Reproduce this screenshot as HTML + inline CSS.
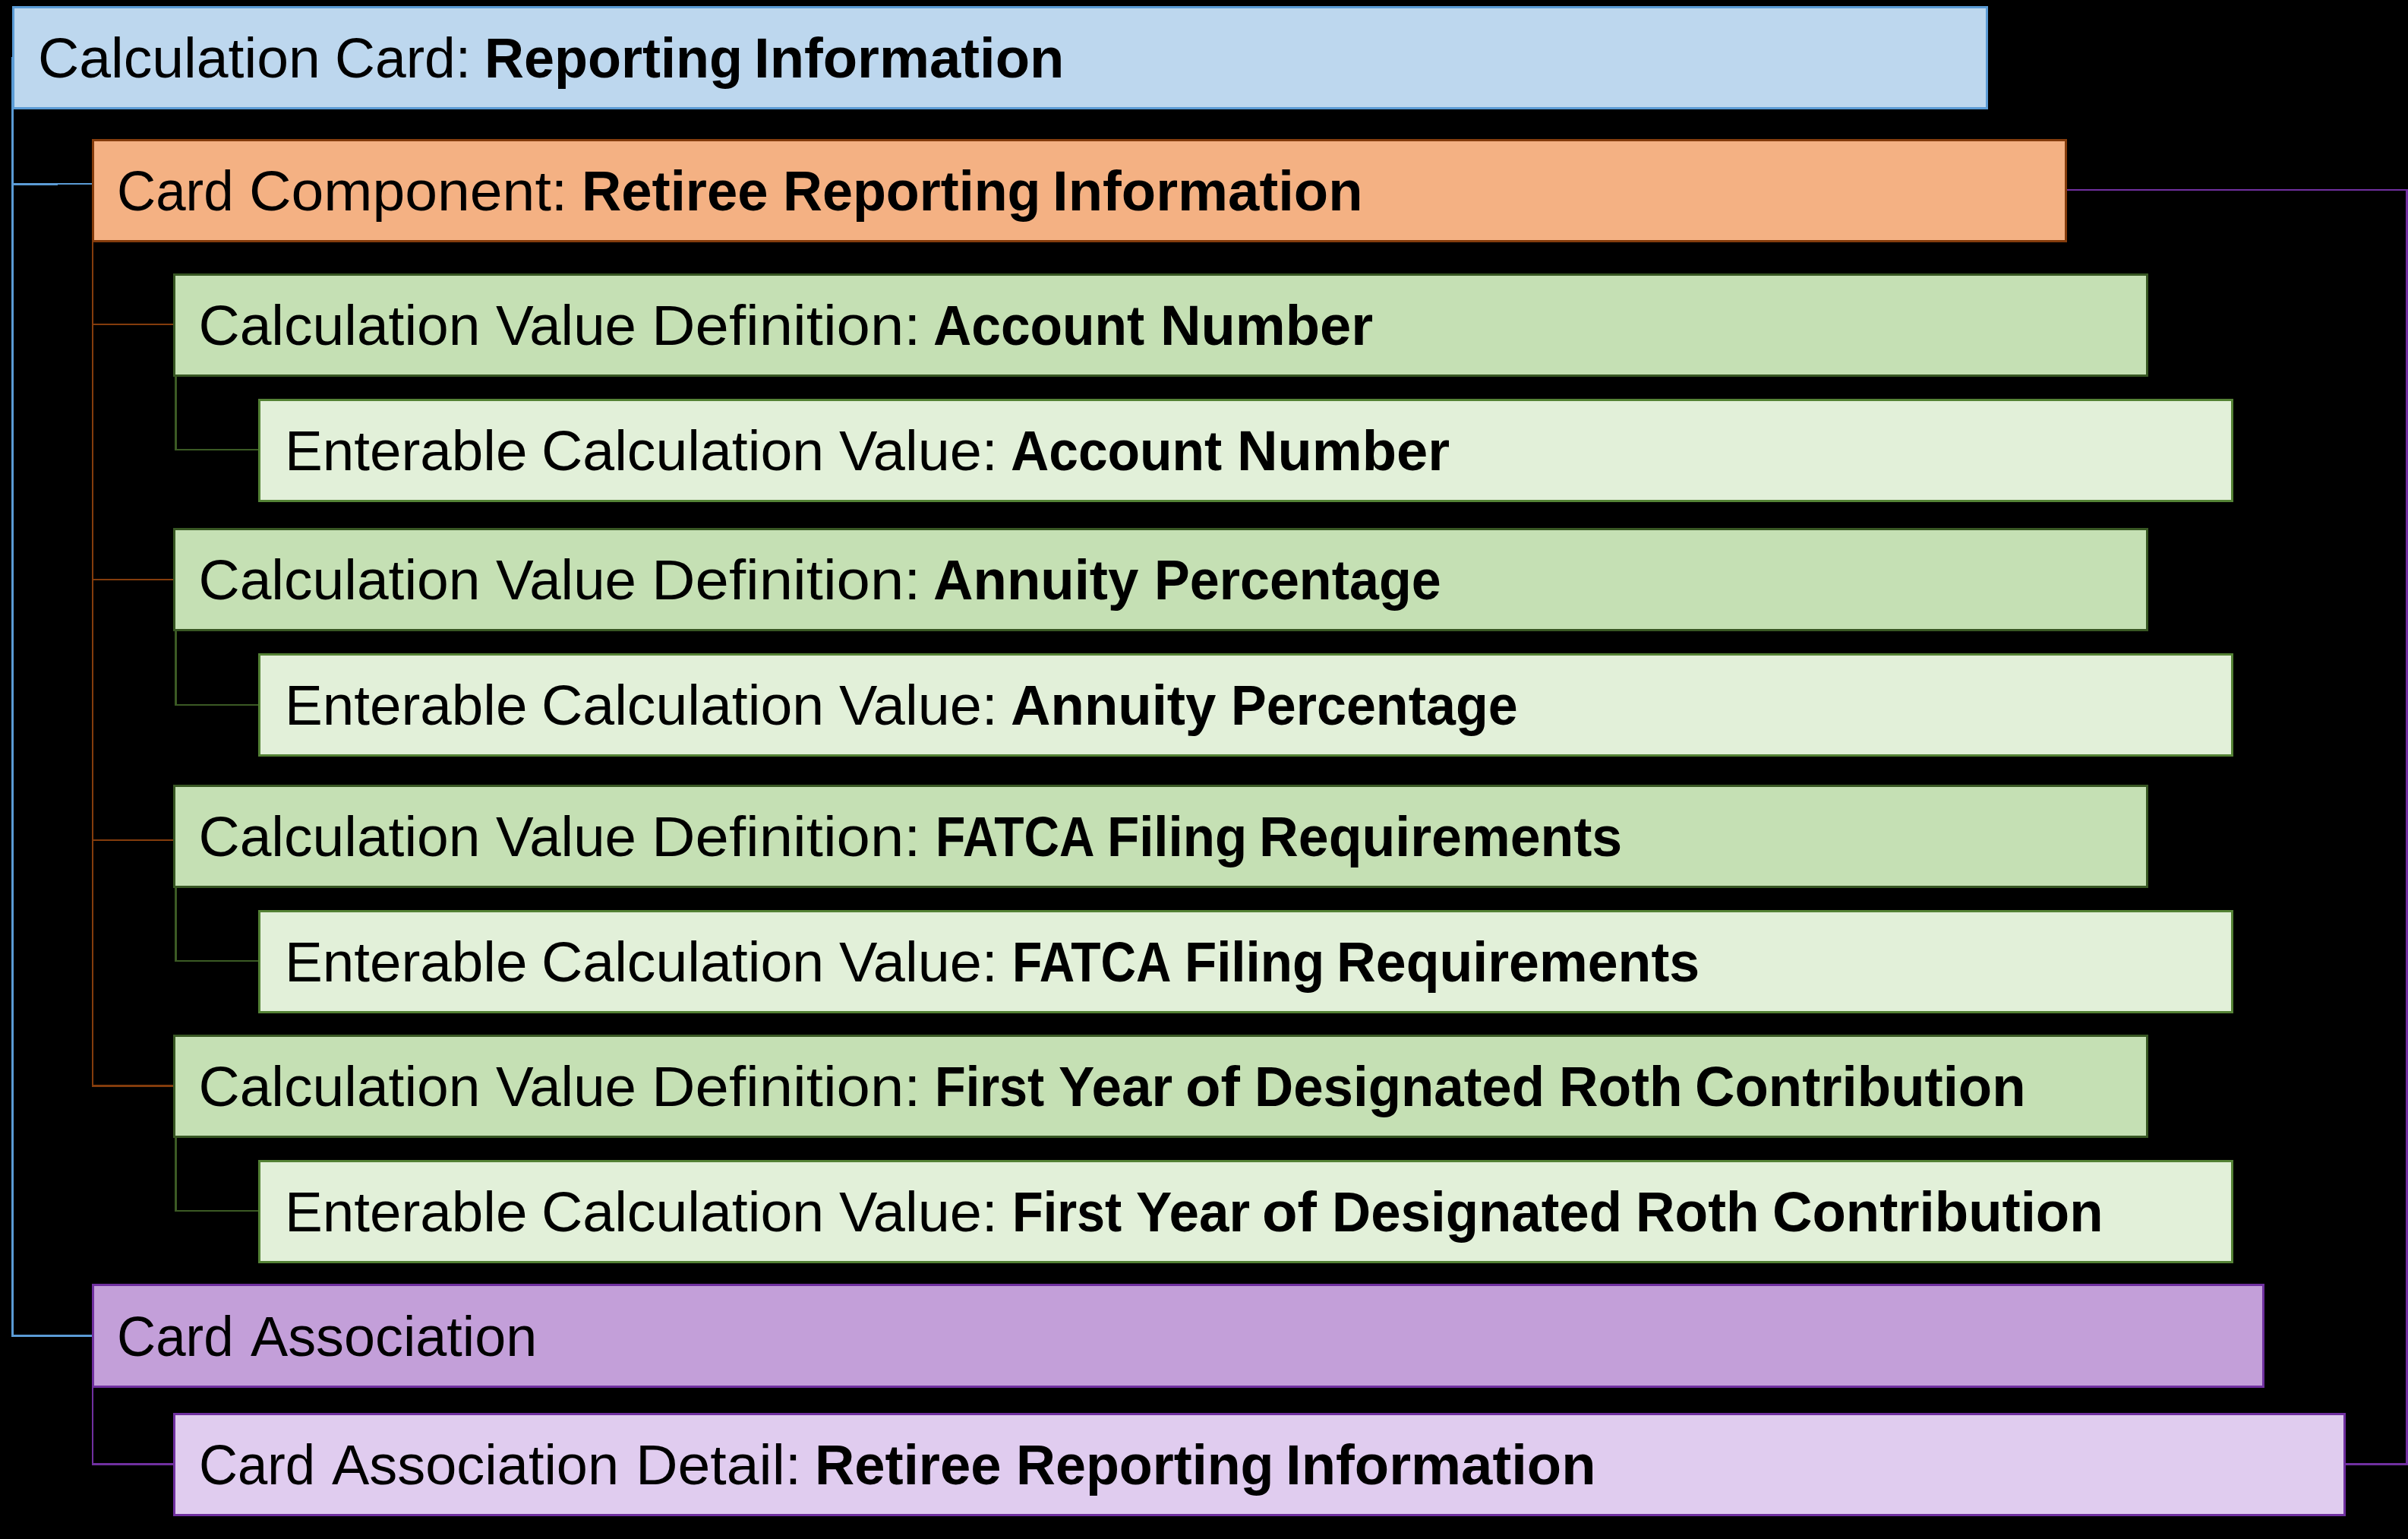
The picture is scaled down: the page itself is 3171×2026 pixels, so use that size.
<!DOCTYPE html>
<html><head><meta charset="utf-8"><title>Calculation Card: Reporting Information</title>
<style>
*{margin:0;padding:0}
html,body{width:3171px;height:2026px;overflow:hidden;background:#000}
body{position:relative}
.b{position:absolute;box-sizing:border-box;border-style:solid;border-width:3px}
.l{position:absolute}
.t{position:absolute;font-family:"Liberation Sans",sans-serif;font-size:75px;line-height:75px;white-space:pre;color:#000;transform-origin:0 0}
.k{font-weight:700}

</style></head><body>
<div class="b" style="left:16px;top:8px;width:2602px;height:136px;border-color:#5B9BD5;background:#BDD7EE"></div>
<div class="b" style="left:121px;top:183px;width:2601px;height:136px;border-color:#843C0C;background:#F4B183"></div>
<div class="b" style="left:228px;top:360px;width:2601px;height:136px;border-color:#385723;background:#C5E0B4"></div>
<div class="b" style="left:228px;top:695px;width:2601px;height:136px;border-color:#385723;background:#C5E0B4"></div>
<div class="b" style="left:228px;top:1033px;width:2601px;height:136px;border-color:#385723;background:#C5E0B4"></div>
<div class="b" style="left:228px;top:1362px;width:2601px;height:136px;border-color:#385723;background:#C5E0B4"></div>
<div class="b" style="left:340px;top:525px;width:2601px;height:136px;border-color:#548235;background:#E2F0D9"></div>
<div class="b" style="left:340px;top:860px;width:2601px;height:136px;border-color:#548235;background:#E2F0D9"></div>
<div class="b" style="left:340px;top:1198px;width:2601px;height:136px;border-color:#548235;background:#E2F0D9"></div>
<div class="b" style="left:340px;top:1527px;width:2601px;height:136px;border-color:#548235;background:#E2F0D9"></div>
<div class="b" style="left:121px;top:1690px;width:2861px;height:137px;border-color:#7030A0;background:#C39FD9"></div>
<div class="b" style="left:228px;top:1860px;width:2861px;height:136px;border-color:#7030A0;background:#E0CCEF"></div>
<div class="l" style="left:15px;top:75px;width:3px;height:1685px;background:#5B9BD5"></div>
<div class="l" style="left:15px;top:241px;width:61px;height:3px;background:#5B9BD5"></div>
<div class="l" style="left:76px;top:241px;width:45px;height:2px;background:#5B9BD5"></div>
<div class="l" style="left:15px;top:1757px;width:106px;height:3px;background:#5B9BD5"></div>
<div class="l" style="left:121px;top:319px;width:2px;height:1112px;background:#843C0C"></div>
<div class="l" style="left:121px;top:426px;width:107px;height:2px;background:#843C0C"></div>
<div class="l" style="left:121px;top:762px;width:107px;height:2px;background:#843C0C"></div>
<div class="l" style="left:121px;top:1105px;width:107px;height:2px;background:#843C0C"></div>
<div class="l" style="left:121px;top:1428px;width:107px;height:3px;background:#843C0C"></div>
<div class="l" style="left:230px;top:496px;width:3px;height:97px;background:#3B5A24"></div>
<div class="l" style="left:230px;top:591px;width:110px;height:2px;background:#3B5A24"></div>
<div class="l" style="left:230px;top:831px;width:3px;height:98px;background:#3B5A24"></div>
<div class="l" style="left:230px;top:927px;width:110px;height:2px;background:#3B5A24"></div>
<div class="l" style="left:230px;top:1169px;width:3px;height:97px;background:#3B5A24"></div>
<div class="l" style="left:230px;top:1264px;width:110px;height:2px;background:#3B5A24"></div>
<div class="l" style="left:230px;top:1498px;width:3px;height:97px;background:#3B5A24"></div>
<div class="l" style="left:230px;top:1593px;width:110px;height:2px;background:#3B5A24"></div>
<div class="l" style="left:121px;top:1827px;width:2px;height:102px;background:#7030A0"></div>
<div class="l" style="left:121px;top:1926px;width:107px;height:3px;background:#7030A0"></div>
<div class="l" style="left:2722px;top:249px;width:449px;height:2px;background:#7030A0"></div>
<div class="l" style="left:3168px;top:249px;width:3px;height:1680px;background:#7030A0"></div>
<div class="l" style="left:3089px;top:1926px;width:82px;height:3px;background:#7030A0"></div>
<div class="t" style="left:50.29px;top:39px;transform:scaleX(1.0019)">Calculation</div>
<div class="t" style="left:440.79px;top:39px;transform:scaleX(0.9767)">Card:</div>
<div class="t k" style="left:638.00px;top:39px;transform:scaleX(0.9599)">Reporting</div>
<div class="t k" style="left:992.65px;top:39px;transform:scaleX(0.9901)">Information</div>
<div class="t" style="left:154.22px;top:214px;transform:scaleX(0.9448)">Card</div>
<div class="t" style="left:327.60px;top:214px;transform:scaleX(1.0259)">Component:</div>
<div class="t k" style="left:765.97px;top:214px;transform:scaleX(0.9660)">Retiree</div>
<div class="t k" style="left:1031.41px;top:214px;transform:scaleX(0.9587)">Reporting</div>
<div class="t k" style="left:1385.85px;top:214px;transform:scaleX(0.9906)">Information</div>
<div class="t" style="left:261.50px;top:391px;transform:scaleX(1.0000)">Calculation</div>
<div class="t" style="left:653.01px;top:391px;transform:scaleX(0.9934)">Value</div>
<div class="t" style="left:857.62px;top:391px;transform:scaleX(1.0626)">Definition:</div>
<div class="t k" style="left:1229.35px;top:391px;transform:scaleX(0.9273)">Account</div>
<div class="t k" style="left:1527.76px;top:391px;transform:scaleX(0.9888)">Number</div>
<div class="t" style="left:374.83px;top:556px;transform:scaleX(0.9949)">Enterable</div>
<div class="t" style="left:713.49px;top:556px;transform:scaleX(1.0030)">Calculation</div>
<div class="t" style="left:1105.19px;top:556px;transform:scaleX(1.0085)">Value:</div>
<div class="t k" style="left:1330.95px;top:556px;transform:scaleX(0.9273)">Account</div>
<div class="t k" style="left:1629.36px;top:556px;transform:scaleX(0.9888)">Number</div>
<div class="t" style="left:261.50px;top:726px;transform:scaleX(1.0000)">Calculation</div>
<div class="t" style="left:653.01px;top:726px;transform:scaleX(0.9934)">Value</div>
<div class="t" style="left:857.62px;top:726px;transform:scaleX(1.0626)">Definition:</div>
<div class="t k" style="left:1229.26px;top:726px;transform:scaleX(0.9690)">Annuity</div>
<div class="t k" style="left:1519.53px;top:726px;transform:scaleX(0.9340)">Percentage</div>
<div class="t" style="left:374.83px;top:891px;transform:scaleX(0.9949)">Enterable</div>
<div class="t" style="left:713.49px;top:891px;transform:scaleX(1.0030)">Calculation</div>
<div class="t" style="left:1105.19px;top:891px;transform:scaleX(1.0085)">Value:</div>
<div class="t k" style="left:1330.86px;top:891px;transform:scaleX(0.9690)">Annuity</div>
<div class="t k" style="left:1621.13px;top:891px;transform:scaleX(0.9340)">Percentage</div>
<div class="t" style="left:261.50px;top:1064px;transform:scaleX(1.0000)">Calculation</div>
<div class="t" style="left:653.01px;top:1064px;transform:scaleX(0.9934)">Value</div>
<div class="t" style="left:857.62px;top:1064px;transform:scaleX(1.0626)">Definition:</div>
<div class="t k" style="left:1231.62px;top:1064px;transform:scaleX(0.8570)">FATCA</div>
<div class="t k" style="left:1458.30px;top:1064px;transform:scaleX(0.9205)">Filing</div>
<div class="t k" style="left:1658.22px;top:1064px;transform:scaleX(0.9561)">Requirements</div>
<div class="t" style="left:374.83px;top:1229px;transform:scaleX(0.9949)">Enterable</div>
<div class="t" style="left:713.49px;top:1229px;transform:scaleX(1.0030)">Calculation</div>
<div class="t" style="left:1105.19px;top:1229px;transform:scaleX(1.0085)">Value:</div>
<div class="t k" style="left:1333.22px;top:1229px;transform:scaleX(0.8570)">FATCA</div>
<div class="t k" style="left:1559.90px;top:1229px;transform:scaleX(0.9205)">Filing</div>
<div class="t k" style="left:1759.82px;top:1229px;transform:scaleX(0.9561)">Requirements</div>
<div class="t" style="left:261.50px;top:1393px;transform:scaleX(1.0000)">Calculation</div>
<div class="t" style="left:653.01px;top:1393px;transform:scaleX(0.9934)">Value</div>
<div class="t" style="left:857.62px;top:1393px;transform:scaleX(1.0626)">Definition:</div>
<div class="t k" style="left:1231.46px;top:1393px;transform:scaleX(0.8873)">First</div>
<div class="t k" style="left:1394.01px;top:1393px;transform:scaleX(0.9465)">Year</div>
<div class="t k" style="left:1560.85px;top:1393px;transform:scaleX(1.0162)">of</div>
<div class="t k" style="left:1652.18px;top:1393px;transform:scaleX(0.9447)">Designated</div>
<div class="t k" style="left:2052.54px;top:1393px;transform:scaleX(0.9522)">Roth</div>
<div class="t k" style="left:2232.20px;top:1393px;transform:scaleX(0.9683)">Contribution</div>
<div class="t" style="left:374.83px;top:1558px;transform:scaleX(0.9949)">Enterable</div>
<div class="t" style="left:713.49px;top:1558px;transform:scaleX(1.0030)">Calculation</div>
<div class="t" style="left:1105.19px;top:1558px;transform:scaleX(1.0085)">Value:</div>
<div class="t k" style="left:1333.06px;top:1558px;transform:scaleX(0.8873)">First</div>
<div class="t k" style="left:1495.61px;top:1558px;transform:scaleX(0.9465)">Year</div>
<div class="t k" style="left:1662.45px;top:1558px;transform:scaleX(1.0162)">of</div>
<div class="t k" style="left:1753.78px;top:1558px;transform:scaleX(0.9447)">Designated</div>
<div class="t k" style="left:2154.14px;top:1558px;transform:scaleX(0.9522)">Roth</div>
<div class="t k" style="left:2333.80px;top:1558px;transform:scaleX(0.9683)">Contribution</div>
<div class="t" style="left:154.22px;top:1722px;transform:scaleX(0.9448)">Card</div>
<div class="t" style="left:330.20px;top:1722px;transform:scaleX(0.9836)">Association</div>
<div class="t" style="left:261.73px;top:1891px;transform:scaleX(0.9416)">Card</div>
<div class="t" style="left:437.20px;top:1891px;transform:scaleX(0.9858)">Association</div>
<div class="t" style="left:836.54px;top:1891px;transform:scaleX(1.0260)">Detail:</div>
<div class="t k" style="left:1072.97px;top:1891px;transform:scaleX(0.9660)">Retiree</div>
<div class="t k" style="left:1338.41px;top:1891px;transform:scaleX(0.9587)">Reporting</div>
<div class="t k" style="left:1692.85px;top:1891px;transform:scaleX(0.9906)">Information</div>
</body></html>
